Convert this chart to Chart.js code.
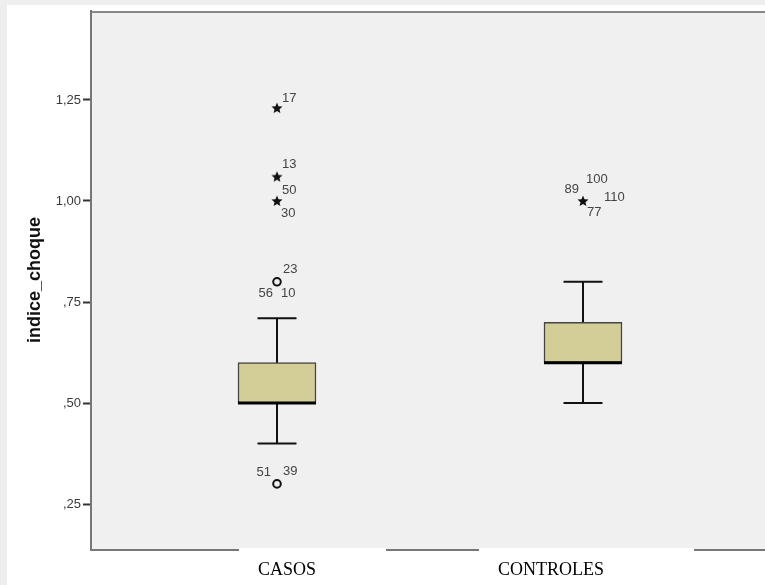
<!DOCTYPE html>
<html>
<head>
<meta charset="utf-8">
<script src="https://cdn.jsdelivr.net/npm/chart.js@4.4.0/dist/chart.umd.min.js"></script>
<style>
  html, body { margin: 0; padding: 0; background: #fff; }
  canvas { display: block; }
</style>
</head>
<body>
<canvas id="boxChart" width="765" height="585"></canvas>
<script>
// Boxplot data (indice_choque por grupo)
const categories = ['CASOS', 'CONTROLES'];
const whiskerLow = [0.40, 0.50];
const q1 = [0.50, 0.60];
const median = [0.50, 0.60];
const q3 = [0.60, 0.70];
const whiskerHigh = [0.71, 0.80];

// outliers (circle) and extreme values (star)
const mildCat = [0, 0];
const mildValue = [0.80, 0.30];
const mildIds = [['23', '56', '10'], ['51', '39']];
const extremeCat = [0, 0, 0, 1];
const extremeValue = [1.23, 1.06, 1.00, 1.00];
const extremeIds = [['17'], ['13'], ['50', '30'], ['100', '89', '110', '77']];

const yTicks = [0.25, 0.50, 0.75, 1.00, 1.25];
const yTickLabels = [',25', ',50', ',75', '1,00', '1,25'];

// label placement relative to the marker (dx, dy, align)
const idOffsets = {
  '17': [5, -10, 'left'], '13': [5, -12, 'left'], '50': [5, -11, 'left'], '30': [4, 12, 'left'],
  '23': [6, -12, 'left'], '56': [-4, 12, 'right'], '10': [4, 12, 'left'],
  '51': [-6, -12, 'right'], '39': [6, -13, 'left'],
  '100': [3, -22, 'left'], '89': [-4, -12, 'right'], '110': [21, -4, 'left'], '77': [4, 11, 'left']
};
// category label text left offset and white background box (from / to) relative to box centre
const catLabelStyle = [
  { dx: -19, boxFrom: -38, boxTo: 109 },
  { dx: -85, boxFrom: -104, boxTo: 111 }
];

const BOX_WIDTH = 78;

function makeStar() {
  const c = document.createElement('canvas');
  c.width = 12; c.height = 12;
  const g = c.getContext('2d');
  g.fillStyle = '#111';
  g.beginPath();
  for (let i = 0; i < 10; i++) {
    const r = i % 2 === 0 ? 5.8 : 2.6;
    const a = -Math.PI / 2 + i * Math.PI / 5;
    const x = 6 + r * Math.cos(a), y = 6.4 + r * Math.sin(a);
    if (i === 0) g.moveTo(x, y); else g.lineTo(x, y);
  }
  g.closePath();
  g.fill();
  return c;
}

const boxPlugin = {
  id: 'boxplotExtras',
  beforeDraw(chart) {
    const { ctx, chartArea: a } = chart;
    ctx.save();
    ctx.fillStyle = '#fff';
    ctx.fillRect(0, 0, chart.width, chart.height);
    ctx.fillStyle = '#eeeeee';
    ctx.fillRect(0, 0, chart.width, 5);
    ctx.fillRect(0, 0, 7, chart.height);
    // plot panel runs off the right edge of the picture
    ctx.fillStyle = '#f0f0f0';
    ctx.fillRect(a.left, a.top, chart.width - a.left, a.bottom - a.top);
    ctx.strokeStyle = '#888';
    ctx.lineWidth = 2;
    ctx.beginPath();
    ctx.moveTo(a.left, a.top + 1);
    ctx.lineTo(chart.width, a.top + 1);
    ctx.stroke();
    ctx.restore();
  },
  beforeDatasetsDraw(chart) {
    const { ctx, scales: { x, y } } = chart;
    ctx.save();
    ctx.strokeStyle = '#111';
    ctx.lineWidth = 2;
    categories.forEach((c, i) => {
      const px = Math.round(x.getPixelForValue(i + 1));
      const lo = y.getPixelForValue(whiskerLow[i]);
      const hi = y.getPixelForValue(whiskerHigh[i]);
      ctx.beginPath();
      ctx.moveTo(px, lo); ctx.lineTo(px, hi);
      ctx.moveTo(px - BOX_WIDTH / 4, lo); ctx.lineTo(px + BOX_WIDTH / 4, lo);
      ctx.moveTo(px - BOX_WIDTH / 4, hi); ctx.lineTo(px + BOX_WIDTH / 4, hi);
      ctx.stroke();
    });
    ctx.restore();
  },
  afterDatasetsDraw(chart) {
    const { ctx, scales: { x, y } } = chart;
    ctx.save();
    // medians
    ctx.strokeStyle = '#000';
    ctx.lineWidth = 3;
    categories.forEach((c, i) => {
      const px = Math.round(x.getPixelForValue(i + 1));
      const m = y.getPixelForValue(median[i]);
      ctx.beginPath();
      ctx.moveTo(px - BOX_WIDTH / 2, m);
      ctx.lineTo(px + BOX_WIDTH / 2, m);
      ctx.stroke();
    });
    // case labels
    ctx.font = '13px "Liberation Sans", Arial, sans-serif';
    ctx.fillStyle = '#444';
    ctx.textBaseline = 'middle';
    const label = (cats, vals, ids) => {
      cats.forEach((c, k) => {
        const px = x.getPixelForValue(c + 1);
        const py = y.getPixelForValue(vals[k]);
        ids[k].forEach(id => {
          const [dx, dy, al] = idOffsets[id];
          ctx.textAlign = al;
          ctx.fillText(id, px + dx, py + dy);
        });
      });
    };
    label(mildCat, mildValue, mildIds);
    label(extremeCat, extremeValue, extremeIds);
    ctx.restore();
  },
  afterDraw(chart) {
    const { ctx, chartArea: a, scales: { x } } = chart;
    ctx.save();
    // bottom axis line
    ctx.strokeStyle = '#777';
    ctx.lineWidth = 2;
    ctx.beginPath();
    ctx.moveTo(a.left - 1, a.bottom + 1);
    ctx.lineTo(chart.width, a.bottom + 1);
    ctx.stroke();
    ctx.font = '18px "Liberation Serif", "Times New Roman", serif';
    ctx.textBaseline = 'alphabetic';
    ctx.textAlign = 'left';
    categories.forEach((c, i) => {
      const px = Math.round(x.getPixelForValue(i + 1));
      const s = catLabelStyle[i];
      ctx.fillStyle = '#fff';
      ctx.fillRect(px + s.boxFrom, a.bottom - 1, s.boxTo - s.boxFrom, 6);
      ctx.fillStyle = '#000';
      ctx.fillText(c, px + s.dx, 575);
    });
    ctx.restore();
  }
};

const ctx = document.getElementById('boxChart').getContext('2d');
new Chart(ctx, {
  type: 'bar',
  data: {
    datasets: [
      {
        label: 'caja',
        data: categories.map((c, i) => ({ x: i + 1, y: [q1[i], q3[i]] })),
        backgroundColor: '#d3ce97',
        borderColor: '#444',
        borderWidth: 1.5,
        borderSkipped: false,
        barThickness: BOX_WIDTH
      },
      {
        type: 'scatter',
        label: 'atipicos',
        data: mildCat.map((c, k) => ({ x: c + 1, y: mildValue[k] })),
        pointStyle: 'circle',
        pointRadius: 3.8,
        borderWidth: 2,
        borderColor: '#111',
        backgroundColor: 'rgba(0,0,0,0)'
      },
      {
        type: 'scatter',
        label: 'extremos',
        data: extremeCat.map((c, k) => ({ x: c + 1, y: extremeValue[k] })),
        pointStyle: makeStar(),
        pointRadius: 6
      }
    ]
  },
  options: {
    responsive: false,
    animation: false,
    events: [],
    layout: { padding: { top: 11, right: 0, left: 0, bottom: 0 } },
    plugins: {
      legend: { display: false },
      tooltip: { enabled: false }
    },
    scales: {
      x: {
        type: 'linear',
        offset: false,
        bounds: 'data',
        min: 0.3922,
        max: 2.5719,
        ticks: { display: false },
        grid: { display: false },
        border: { display: false },
        afterFit(scale) { scale.height = 36; }
      },
      y: {
        type: 'linear',
        min: 0.139,
        max: 1.47,
        afterBuildTicks(scale) { scale.ticks = yTicks.map(v => ({ value: v })); },
        ticks: {
          padding: 2,
          color: '#3a3a3a',
          font: { family: '"Liberation Sans", Arial, sans-serif', size: 13 },
          callback: (v) => yTickLabels[yTicks.indexOf(v)]
        },
        grid: { display: true, drawOnChartArea: false, drawTicks: true, tickLength: 8, tickColor: '#333', tickWidth: 2 },
        border: { display: true, color: '#777', width: 2 },
        title: {
          display: true,
          text: 'indice_choque',
          color: '#111',
          font: { family: '"Liberation Sans", Arial, sans-serif', size: 18, weight: 'bold' },
          padding: { top: 24, bottom: 0 }
        },
        afterFit(scale) { scale.width = 91; }
      }
    }
  },
  plugins: [boxPlugin]
});
</script>
</body>
</html>
